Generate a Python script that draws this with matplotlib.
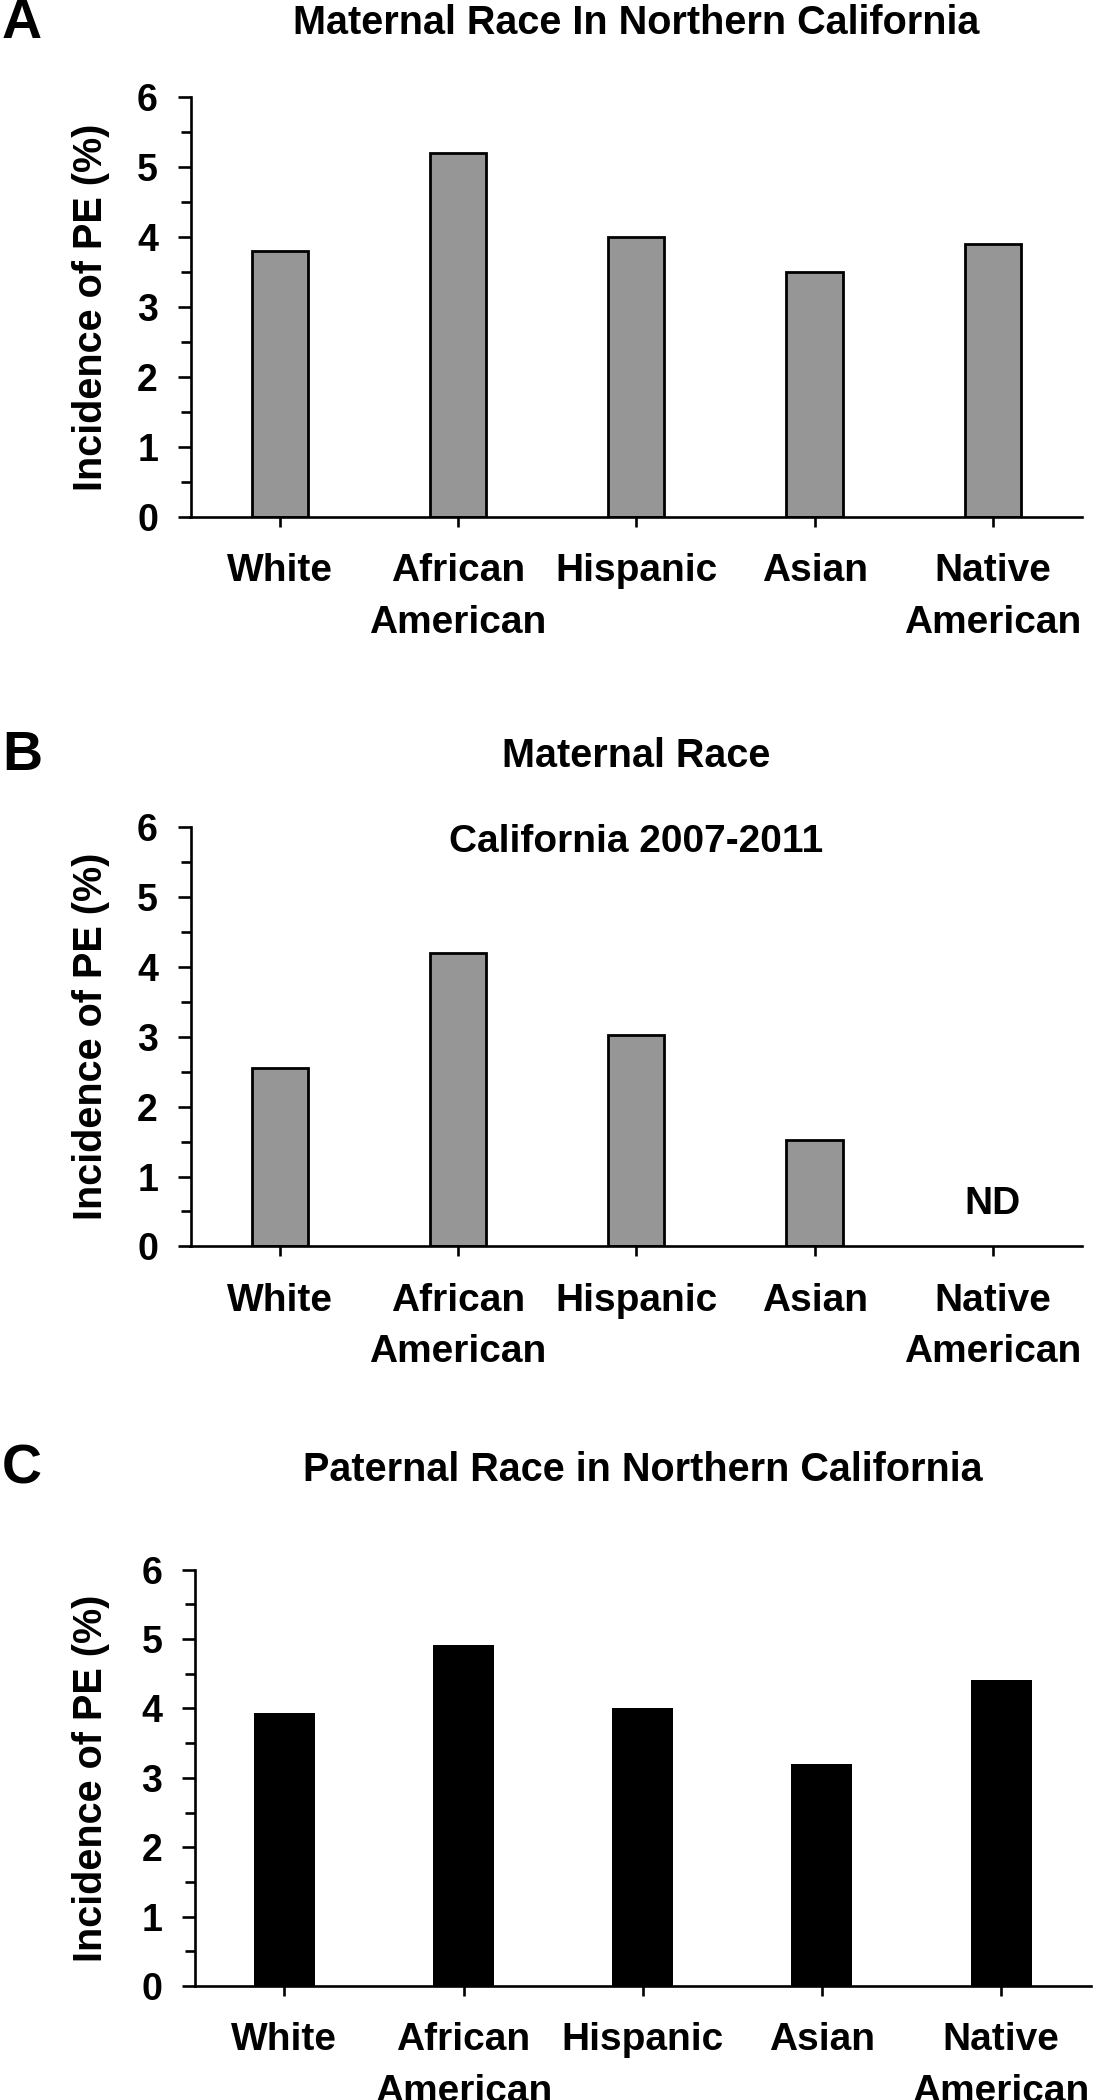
import numpy as np
import matplotlib
matplotlib.use("Agg")
import matplotlib.pyplot as plt
from matplotlib.ticker import MultipleLocator

plt.rcParams['font.family'] = ['Liberation Sans', 'DejaVu Sans']
plt.rcParams['font.weight'] = 'bold'

races = ['White', 'African\nAmerican', 'Hispanic', 'Asian', 'Native\nAmerican']
maternal_north = [3.8, 5.2, 4.0, 3.5, 3.9]
maternal_ca = [2.55, 4.2, 3.03, 1.53, np.nan]   # Native American: ND
paternal_north = [3.93, 4.91, 4.01, 3.2, 4.41]

titles = ['Maternal Race In Northern California',
          'Maternal Race',
          'Paternal Race in Northern California']
letters = ['A', 'B', 'C']

W, H = 1098, 2100
fig = plt.figure(figsize=(W / 100, H / 100), dpi=100)


def px_axes(left, right, top, bottom):
    return fig.add_axes([left / W, 1 - bottom / H, (right - left) / W, (bottom - top) / H])


def style(ax):
    ax.set_xlim(-0.5, 4.5)
    ax.set_ylim(0, 6)
    for s in ['top', 'right']:
        ax.spines[s].set_visible(False)
    for s in ['left', 'bottom']:
        ax.spines[s].set_linewidth(1.9)
    ax.yaxis.set_major_locator(MultipleLocator(1))
    ax.yaxis.set_minor_locator(MultipleLocator(0.5))
    ax.tick_params(axis='y', which='major', length=9.4, width=1.9, labelsize=27, pad=14)
    ax.tick_params(axis='y', which='minor', length=7.2, width=1.9)
    ax.tick_params(axis='x', which='major', length=7.5, width=1.9, labelsize=28, pad=18.5)
    ax.set_xticks(range(len(races)))
    ax.set_xticklabels(races, linespacing=1.55)
    ax.set_ylabel('Incidence of PE (%)', fontsize=28.5, fontweight='bold')


# panel A
axA = px_axes(190.5, 1082, 97.3, 517)
axA.bar(range(len(races)), maternal_north, width=0.315, color='#969696',
        edgecolor='black', linewidth=2.0)
style(axA)
axA.yaxis.set_label_coords(-0.09, 0.5)

# panel B
axB = px_axes(190.5, 1082, 827.2, 1246.4)
axB.bar(range(len(races)), maternal_ca, width=0.315, color='#969696',
        edgecolor='black', linewidth=2.0)
style(axB)
axB.yaxis.set_label_coords(-0.09, 0.5)
axB.text(2, 5.79, 'California 2007-2011', ha='center', va='center', fontsize=28)
axB.text(4, 0.6, 'ND', ha='center', va='center', fontsize=28)

# panel C
axC = px_axes(194.7, 1090.7, 1569.6, 1986.1)
axC.bar(range(len(races)), paternal_north, width=0.34, color='black')
style(axC)
axC.yaxis.set_label_coords(-0.094, 0.5)

# titles and panel letters
for ax, t, l, ty in zip([axA, axB, axC], titles, letters, [23.5, 756, 1470]):
    pos = ax.get_position()
    fig.text((pos.x0 + pos.x1) / 2, 1 - ty / H, t, ha='center', va='center', fontsize=28.5)
    fig.text(22 / W, 1 - ty / H, l, ha='center', va='center', fontsize=40)

plt.savefig('out.png', dpi=100)
